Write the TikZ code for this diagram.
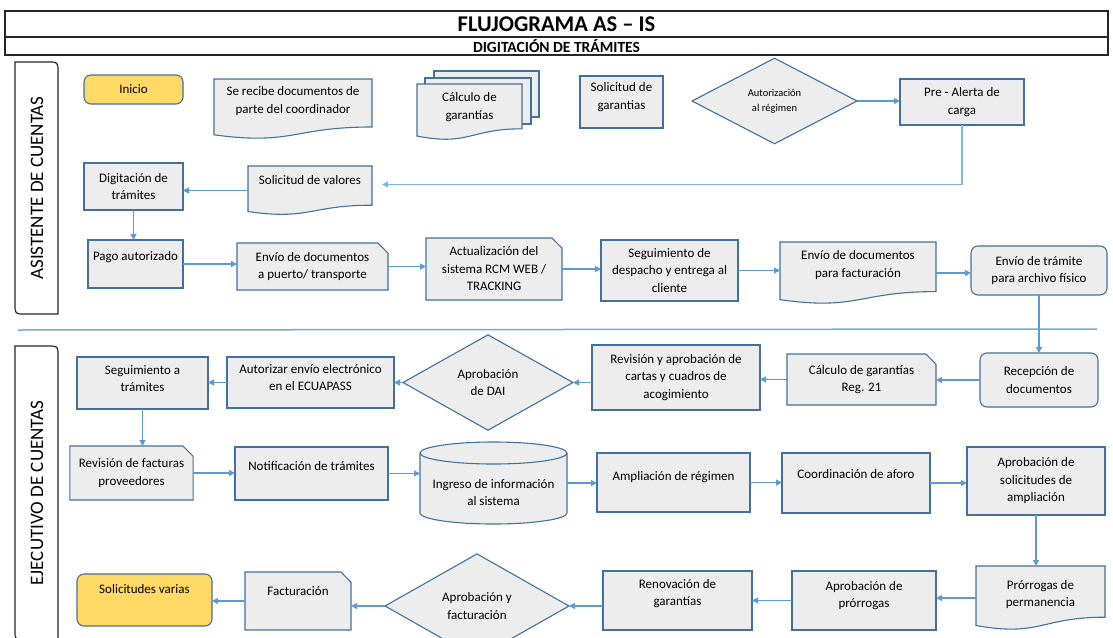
\documentclass[tikz,border=0pt]{standalone}
\usepackage{fontspec}
\setmainfont{Carlito}
\usepackage{tikz}
\usetikzlibrary{arrows.meta,shapes,positioning,calc,backgrounds}

\definecolor{bordeazul}{HTML}{41719C}
\definecolor{flecha}{HTML}{5B9BD5}
\definecolor{flechaclara}{HTML}{9DC3E6}
\definecolor{relleno}{HTML}{EDEDED}
\definecolor{amarillo}{HTML}{FFD966}

\tikzset{
  caja/.style={draw=bordeazul, fill=relleno, line width=1.1pt, align=center,
    inner sep=2pt, outer sep=0pt, font=\fontsize{13}{17.5}\selectfont},
  redonda/.style={caja, rounded corners=7pt},
  inicio/.style={redonda, fill=amarillo},
  recorte/.style={caja, chamfered rectangle, chamfered rectangle corners=north east,
    chamfered rectangle xsep=7pt},
  decision/.style={caja, diamond},
  hoja/.style={caja, draw=none, fill=none},
  borde/.style={draw=bordeazul, fill=relleno, line width=1.1pt},
  flujo/.style={draw=flecha, line width=1.2pt, -{Triangle[length=6pt,width=6pt]}},
  carril/.style={draw=black!85, line width=1.2pt},
  carriltexto/.style={rotate=90, font=\fontsize{19}{19}\selectfont},
  encabezado/.style={draw=black!85, line width=1.2pt, minimum width=1103, inner sep=0pt},
  subir/.style={execute at end node={\rule[-#1]{0pt}{#1}}},
  bajar/.style={execute at begin node={\rule{0pt}{#1}}}
}

\newcommand{\hojadoc}[1]{%
  \path[borde] (#1.north west) -- (#1.north east)
    -- ($(#1.north east)!0.80!(#1.south east)$)
    .. controls ($(#1.north)!0.80!(#1.south)$) and ($(#1.north)!1.11!(#1.south)$)
    .. ($(#1.north west)!0.93!(#1.south west)$) -- cycle;}

\begin{document}
\begin{tikzpicture}[x=1pt, y=-1pt]
  \useasboundingbox (0,0) rectangle (1113,637);

  \node[encabezado, minimum height=26, font=\fontsize{22.5}{24}\selectfont\bfseries] (titulo) at (556.5,24) {FLUJOGRAMA AS – IS};
  \node[encabezado, minimum height=18, font=\fontsize{15.5}{16}\selectfont\bfseries] (subtitulo) at (556.5,46) {DIGITACIÓN DE TRÁMITES};

  \draw[carril] (15,62) -- (48,62) .. controls (58,62) .. (58,72) -- (58,314) -- (25,314) .. controls (15,314) .. (15,304) -- cycle;
  \draw[carril] (15,346) -- (48,346) .. controls (58,346) .. (58,356) -- (58,640) -- (25,640) .. controls (15,640) .. (15,630) -- cycle;
  \node[carriltexto] (lasist) at (37,188) {ASISTENTE DE CUENTAS};
  \node[carriltexto] (lejec) at (37,493) {EJECUTIVO DE CUENTAS};

  \draw[draw=flecha!85, line width=1.5pt] (18,330) -- (1097,329);

  \node[inicio, minimum width=99, minimum height=29] (inicio) at (133.5,89.5) {Inicio};
  \node[hoja, subir=18pt, minimum width=158, minimum height=60] (recibe) at (293,109) {Se recibe documentos de\\parte del coordinador};
  \node[hoja, subir=12pt, minimum width=105, minimum height=56] (calcgar) at (469.5,112) {Cálculo de\\garantías};
  \node[caja, subir=12pt, minimum width=83, minimum height=52] (solgar) at (621.5,102) {Solicitud de\\garantias};
  \node[decision, minimum width=165, minimum height=78, font=\fontsize{10.5}{15}\selectfont] (autoreg) at (774.5,101) {Autorización\\al régimen};
  \node[caja, minimum width=124, minimum height=46] (prealerta) at (962,102) {Pre - Alerta de\\carga};

  \node[caja, minimum width=99, minimum height=47] (digit) at (133.5,186.5) {Digitación de\\trámites};
  \node[hoja, subir=22pt, minimum width=124, minimum height=49] (solval) at (310,190.5) {Solicitud de valores};

  \node[caja, subir=16pt, minimum width=95, minimum height=48] (pago) at (135.5,264) {Pago autorizado};
  \node[recorte, minimum width=151, minimum height=47] (envpuerto) at (312.5,266.5) {Envío de documentos\\a puerto/ transporte};
  \node[recorte, minimum width=136, minimum height=62] (actual) at (494,269) {Actualización del\\sistema RCM WEB /\\TRACKING};
  \node[caja, minimum width=137, minimum height=61] (segdesp) at (669.5,270.5) {Seguimiento de\\despacho y entrega al\\cliente};
  \node[hoja, subir=18pt, minimum width=156, minimum height=62] (envfact) at (858,273) {Envío de documentos\\para facturación};
  \node[redonda, minimum width=136, minimum height=49] (envtram) at (1039,270.5) {Envío de trámite\\para archivo físico};

  \node[redonda, minimum width=118, minimum height=54] (recep) at (1039,380) {Recepción de\\documentos};
  \node[recorte, minimum width=149, minimum height=51] (calcreg) at (861.5,379.5) {Cálculo de garantías\\Reg. 21};
  \node[caja, minimum width=168, minimum height=65] (revcartas) at (676,377.5) {Revisión y aprobación de\\cartas y cuadros de\\acogimiento};
  \node[decision, minimum width=170, minimum height=83] (aprdai) at (488,382.5) {Aprobación\\de DAI};
  \node[caja, subir=10pt, minimum width=167, minimum height=51] (autenv) at (310.5,382.5) {Autorizar envío electrónico\\en el ECUAPASS};
  \node[caja, subir=9pt, minimum width=131, minimum height=52] (segtram) at (142.5,383) {Seguimiento a\\trámites};

  \node[recorte, minimum width=123, minimum height=54] (revfac) at (131.5,473) {Revisión de facturas\\proveedores};
  \node[caja, subir=15pt, minimum width=153, minimum height=53] (notif) at (311.5,473.5) {Notificación de trámites};
  \node[hoja, bajar=46pt, minimum width=147, minimum height=82] (ingreso) at (493.5,483) {Ingreso de información\\al sistema};
  \node[caja, subir=13pt, minimum width=153, minimum height=59] (amplreg) at (673.5,482.5) {Ampliación de régimen};
  \node[caja, subir=18pt, minimum width=148, minimum height=60] (coord) at (856,483) {Coordinación de aforo};
  \node[caja, minimum width=138, minimum height=68] (aprsol) at (1036,481) {Aprobación de\\solicitudes de\\ampliación};

  \node[hoja, subir=9pt, minimum width=129, minimum height=64] (prorr) at (1040.5,598) {Prórrogas de\\permanencia};
  \node[caja, subir=12pt, minimum width=144, minimum height=59] (aprprorr) at (864,600.5) {Aprobación de\\prórrogas};
  \node[caja, subir=16pt, minimum width=149, minimum height=59] (renov) at (677.5,600.5) {Renovación de\\garantías};
  \node[decision, minimum width=184, minimum height=82] (aprfact) at (477,606) {Aprobación y\\facturación};
  \node[recorte, subir=20pt, minimum width=106, minimum height=58] (factur) at (298,601) {Facturación};
  \node[inicio, subir=22pt, minimum width=135, minimum height=52] (solvar) at (144.5,600) {Solicitudes varias};

  \begin{scope}[on background layer]
    \hojadoc{recibe}
    \path[borde] ($(calcgar.north west)+(17,-13)$) rectangle ($(calcgar.south east)+(17,-23)$);
    \path[borde] ($(calcgar.north west)+(8,-6)$) rectangle ($(calcgar.south east)+(9,-16)$);
    \hojadoc{calcgar}
    \hojadoc{solval}
    \hojadoc{envfact}
    \hojadoc{prorr}
    \path[borde] (420,453) -- (420,513) .. controls (420,519) and (452.9,524) .. (493.5,524)
      .. controls (534.1,524) and (567,519) .. (567,513) -- (567,453)
      .. controls (567,447) and (534.1,442) .. (493.5,442)
      .. controls (452.9,442) and (420,447) .. (420,453) -- cycle;
    \draw[bordeazul, line width=1.1pt] (420,453) .. controls (420,459) and (452.9,464) .. (493.5,464)
      .. controls (534.1,464) and (567,459) .. (567,453);
  \end{scope}

  \draw[flujo] (autoreg.east) -- (autoreg.east -| prealerta.west);
  \draw[flujo, draw=flechaclara!60!flecha, line width=1.8pt, shorten >=10pt] (prealerta.south) |- ([yshift=6pt]solval.east);
  \draw[flujo] (solval.west) -- (solval.west -| digit.east);
  \draw[flujo] (digit.south) -- (digit.south |- pago.north);
  \draw[flujo] (pago.east) -- (pago.east -| envpuerto.west);
  \draw[flujo] (envpuerto.east) -- (envpuerto.east -| actual.west);
  \draw[flujo] (actual.east) -- (actual.east -| segdesp.west);
  \draw[flujo] (segdesp.east) -- (segdesp.east -| envfact.west);
  \draw[flujo] (envfact.east) -- (envfact.east -| envtram.west);
  \draw[flujo] (envtram.south) -- (envtram.south |- recep.north);

  \draw[flujo] (recep.west) -- (recep.west -| calcreg.east);
  \draw[flujo] (calcreg.west) -- (calcreg.west -| revcartas.east);
  \draw[flujo] (revcartas.west |- aprdai.east) -- (aprdai.east);
  \draw[flujo] (aprdai.west) -- (aprdai.west -| autenv.east);
  \draw[flujo] (autenv.west) -- (autenv.west -| segtram.east);
  \draw[flujo] (segtram.south) -- (segtram.south |- revfac.north);

  \draw[flujo] (revfac.east) -- (revfac.east -| notif.west);
  \draw[flujo] (notif.east) -- (notif.east -| ingreso.west);
  \draw[flujo] (ingreso.east) -- (ingreso.east -| amplreg.west);
  \draw[flujo] (amplreg.east) -- (amplreg.east -| coord.west);
  \draw[flujo] (coord.east) -- (coord.east -| aprsol.west);
  \draw[flujo] (aprsol.south) -- (aprsol.south |- prorr.north);

  \draw[flujo] (prorr.west) -- (prorr.west -| aprprorr.east);
  \draw[flujo] (aprprorr.west) -- (aprprorr.west -| renov.east);
  \draw[flujo] (renov.west |- aprfact.east) -- (aprfact.east);
  \draw[flujo] (aprfact.west) -- (aprfact.west -| factur.east);
  \draw[flujo] (factur.west) -- (factur.west -| solvar.east);
\end{tikzpicture}
\end{document}
